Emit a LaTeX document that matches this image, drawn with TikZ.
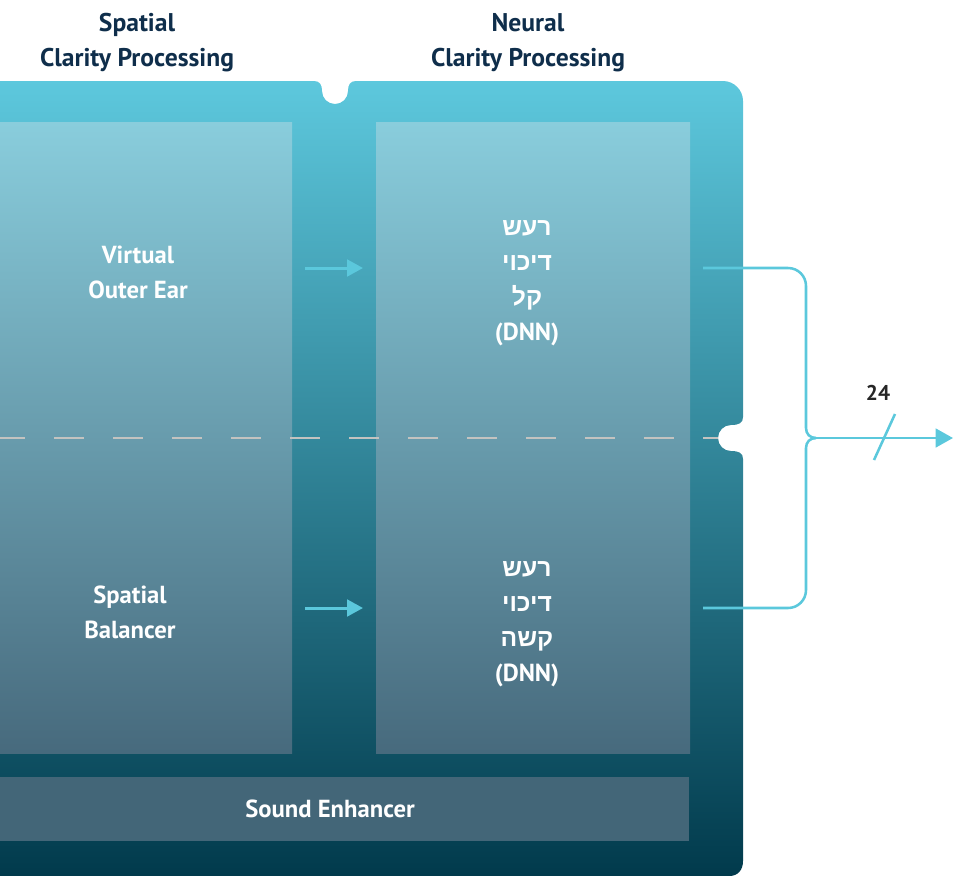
\documentclass[tikz,border=0pt]{standalone}
\usepackage{fontspec}
\setmainfont{PT Sans}
\newfontfamily\hebfont[Script=Hebrew]{Liberation Sans}
\TeXXeTstate=1
\usetikzlibrary{arrows.meta, calc}

\definecolor{panelTop}{HTML}{5DC8DD}
\definecolor{panelMid}{HTML}{2A7D90}
\definecolor{panelBot}{HTML}{013A4C}
\definecolor{boxTop}{HTML}{89CDDC}
\definecolor{boxBot}{HTML}{476A7D}
\definecolor{enhFill}{HTML}{436678}
\definecolor{flowCol}{HTML}{5BC8DC}
\definecolor{navy}{HTML}{0F2E4B}
\definecolor{divCol}{HTML}{C3C3C0}

\begin{document}
\begin{tikzpicture}[x=0.75pt, y=-0.75pt,
	lbl/.style={text=white, font=\bfseries\fontsize{18.5}{26.25}\selectfont, align=center, inner sep=0pt},
	heading/.style={lbl, text=navy, font=\bfseries\fontsize{19.2}{26.25}\selectfont},
	innerbox/.style={top color=boxTop, bottom color=boxBot},
	flow/.style={draw=flowCol, line width=1.9pt},
	feed/.style={draw=flowCol, line width=2.25pt, -{Triangle[length=12pt, width=12.5pt]}}]
	
	\clip (0,0) rectangle (953,875);
	
	% outer panel with the two notches
	\shade[top color=panelTop, middle color=panelMid, bottom color=panelBot]
	(-20,81) -- (314,81) .. controls (320,81) and (322,85) .. (322,91)
	.. controls (322,98.2) and (327.8,104) .. (335,104)
	.. controls (342.2,104) and (348,98.2) .. (348,91)
	.. controls (348,85) and (350,81) .. (356,81)
	-- (723,81) .. controls (734,81) and (743,90) .. (743,101)
	-- (743,417) .. controls (743,423) and (739,425) .. (731,425)
	.. controls (723.8,425) and (718,430.8) .. (718,438)
	.. controls (718,445.2) and (723.8,451) .. (731,451)
	.. controls (739,451) and (743,453) .. (743,459)
	-- (743,861) .. controls (743,870) and (738,876) .. (729,876)
	-- (-20,876) -- cycle;
	
	\shade[innerbox] (-20,122) rectangle (292,753);
	\shade[innerbox] (376,122) rectangle (690,753);
	\fill[enhFill] (-20,777) rectangle (689,841);
	
	\draw[divCol, line width=1.9pt, dash pattern=on 22.5pt off 21.75pt, dash phase=3.75pt]
	(0,438) -- (718,438);
	
	% titles
	\node[heading] (spatialtitle) at (137,43) {Spatial\\Clarity Processing};
	\node[heading] (neuraltitle) at (528,43) {Neural\\Clarity Processing};
	
	% blocks
	\node[lbl] (outerear) at (138,272) {Virtual\\Outer Ear};
	\node[lbl] (balancer) at (130,612) {Spatial\\Balancer};
	\node[lbl] (dnnlight) at (527,283) {{\hebfont\beginR רעש\endR}\\{\hebfont\beginR דיכוי\endR}\\{\hebfont\beginR קל\endR}\\(DNN)};
	\node[lbl] (dnnhard) at (527,624) {{\hebfont\beginR רעש\endR}\\{\hebfont\beginR דיכוי\endR}\\{\hebfont\beginR קשה\endR}\\(DNN)};
	\node[lbl] (enhancer) at (330,809) {Sound Enhancer};
	
	\coordinate (earout) at (305,268);
	\coordinate (lightin) at (363,268);
	\coordinate (balout) at (305,608);
	\coordinate (hardin) at (363,608);
	\coordinate (lightout) at (703,268);
	\coordinate (hardout) at (703,608);
	\coordinate (merge) at (816,438);
	\coordinate (output) at (953,438);
	
	\draw[feed] (earout) -- (lightin);
	\draw[feed] (balout) -- (hardin);
	
	% merging both outputs
	\draw[flow] (lightout) -- (788,268) .. controls (798,268) and (806,276) .. (806,286)
	-- (806,428) .. controls (806,434) and (810,438) .. (merge);
	\draw[flow] (hardout) -- (788,608) .. controls (798,608) and (806,600) .. (806,590)
	-- (806,448) .. controls (806,442) and (810,438) .. (merge);
	\draw[flow, -{Triangle[length=13pt, width=14pt]}] (merge) -- (output);
	\coordinate (busA) at (874,460);
	\coordinate (busB) at (895,414);
	\draw[flow] (busA) -- (busB);
	\node[text=black!85, font=\bfseries\fontsize{16}{18}\selectfont, inner sep=0pt] (buswidth) at (878,393) {24};
	
\end{tikzpicture}
\end{document}
